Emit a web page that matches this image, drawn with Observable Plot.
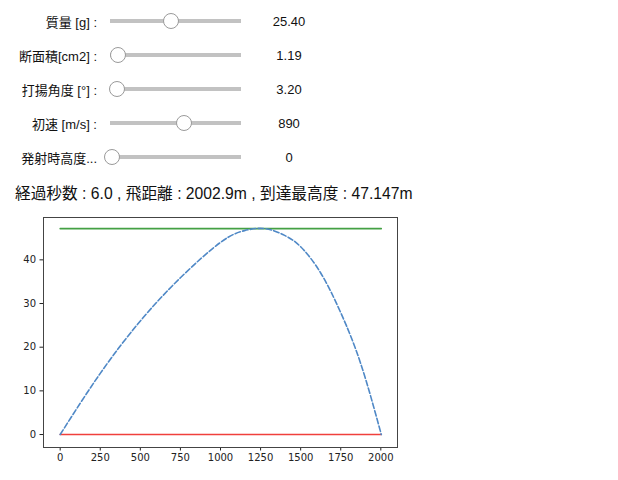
<!DOCTYPE html>
<html>
<head>
<meta charset="utf-8">
<script src="https://cdn.jsdelivr.net/npm/d3@7"></script>
<script src="https://cdn.jsdelivr.net/npm/@observablehq/plot@0.6"></script>
<style>
  html, body { margin: 0; padding: 0; background: #fff; }
  body { width: 618px; height: 480px; position: relative; overflow: hidden;
         font-family: "Liberation Sans", "Noto Sans CJK JP", sans-serif; color: #111; }
  .lab { position: absolute; right: calc(618px - 97px); font-size: 13px; white-space: nowrap;
         transform: translateY(-50%); }
  .track { position: absolute; left: 110px; width: 131px; height: 4px; background: #c2c2c2;
           transform: translateY(-50%); }
  .thumb { position: absolute; width: 16px; height: 16px; border-radius: 50%; background: #fff;
           border: 1px solid #9a9a9a; box-sizing: border-box; transform: translate(-50%, -50%); }
  .val { position: absolute; font-size: 13px; transform: translate(-50%, -50%); white-space: nowrap; }
  #summary { position: absolute; left: 15px; top: 192px; transform: translateY(-50%);
             font-size: 15.7px; white-space: nowrap; }
  #chart { position: absolute; left: 0; top: 205px; }
</style>
</head>
<body>
<div id="controls"></div>
<div id="summary"></div>
<div id="chart"></div>
<script>
// Slider controls
const sliderLabels = ["質量 [g] :", "断面積[cm2] :", "打揚角度 [°] :", "初速 [m/s] :", "発射時高度..."];
const sliderValues = [25.40, 1.19, 3.20, 890, 0];
const sliderText = ["25.40", "1.19", "3.20", "890", "0"];
const sliderMin = [0, 0.5, 0, 100, 0];
const sliderMax = [55, 16, 90, 1500, 100];

// Summary values
const elapsedSec = "6.0";
const flightDistance = 2002.9;
const maxHeight = 47.147;

// Trajectory (distance m, height m)
const trajX = [0, 250, 500, 750, 1000, 1150, 1280, 1400, 1500, 1625, 1750, 1875, 2002.9];
const trajY = [0, 14.0, 26.0, 35.9, 44.0, 46.7, 47.147, 45.6, 43.0, 37.0, 27.9, 16.2, 0];
const xTicks = [0, 250, 500, 750, 1000, 1250, 1500, 1750, 2000];
const yTicks = [0, 10, 20, 30, 40];

// Build controls
const ctrl = document.getElementById("controls");
const rowY0 = 21, rowDY = 34;
const thumbLo = 112, thumbHi = 239;
sliderLabels.forEach((lab, i) => {
  const y = rowY0 + i * rowDY;
  const l = document.createElement("div");
  l.className = "lab"; l.style.top = y + "px"; l.textContent = lab; ctrl.appendChild(l);
  const t = document.createElement("div");
  t.className = "track"; t.style.top = y + "px"; ctrl.appendChild(t);
  const th = document.createElement("div");
  const f = (sliderValues[i] - sliderMin[i]) / (sliderMax[i] - sliderMin[i]);
  th.className = "thumb"; th.style.top = y + "px";
  th.style.left = (thumbLo + f * (thumbHi - thumbLo)) + "px"; ctrl.appendChild(th);
  const v = document.createElement("div");
  v.className = "val"; v.style.top = y + "px"; v.style.left = "289px"; v.textContent = sliderText[i];
  ctrl.appendChild(v);
});

document.getElementById("summary").textContent =
  `経過秒数 : ${elapsedSec} , 飛距離 : ${flightDistance.toFixed(1)}m , 到達最高度 : ${maxHeight.toFixed(3)}m`;

const traj = trajX.map((x, i) => ({x, y: trajY[i]}));
const groundLine = [{x: 0, y: 0}, {x: flightDistance, y: 0}];
const topLine = [{x: 0, y: maxHeight}, {x: flightDistance, y: maxHeight}];

const chart = Plot.plot({
  width: 420,
  height: 275,
  marginTop: 12,
  marginBottom: 33,
  marginLeft: 43,
  marginRight: 23,
  style: {fontFamily: "DejaVu Sans, sans-serif", fontSize: "10px", color: "#222", background: "#fff"},
  x: {domain: [-104, 2104], ticks: xTicks, tickSize: 3.5, tickPadding: 3, tickFormat: d => String(d), label: null},
  y: {domain: [-2.97, 49.7], ticks: yTicks, tickSize: 3.5, tickPadding: 4, tickFormat: d => String(d), label: null},
  marks: [
    Plot.line(topLine, {x: "x", y: "y", stroke: "#44a044", strokeWidth: 1.6}),
    Plot.line(groundLine, {x: "x", y: "y", stroke: "#f0403c", strokeWidth: 1.6}),
    Plot.line(traj, {x: "x", y: "y", stroke: "#4f88c6", strokeWidth: 1.6, strokeDasharray: "5.5,2.4", curve: "natural"}),
    Plot.frame({stroke: "#444", strokeWidth: 1})
  ]
});
document.getElementById("chart").appendChild(chart);
</script>
</body>
</html>
